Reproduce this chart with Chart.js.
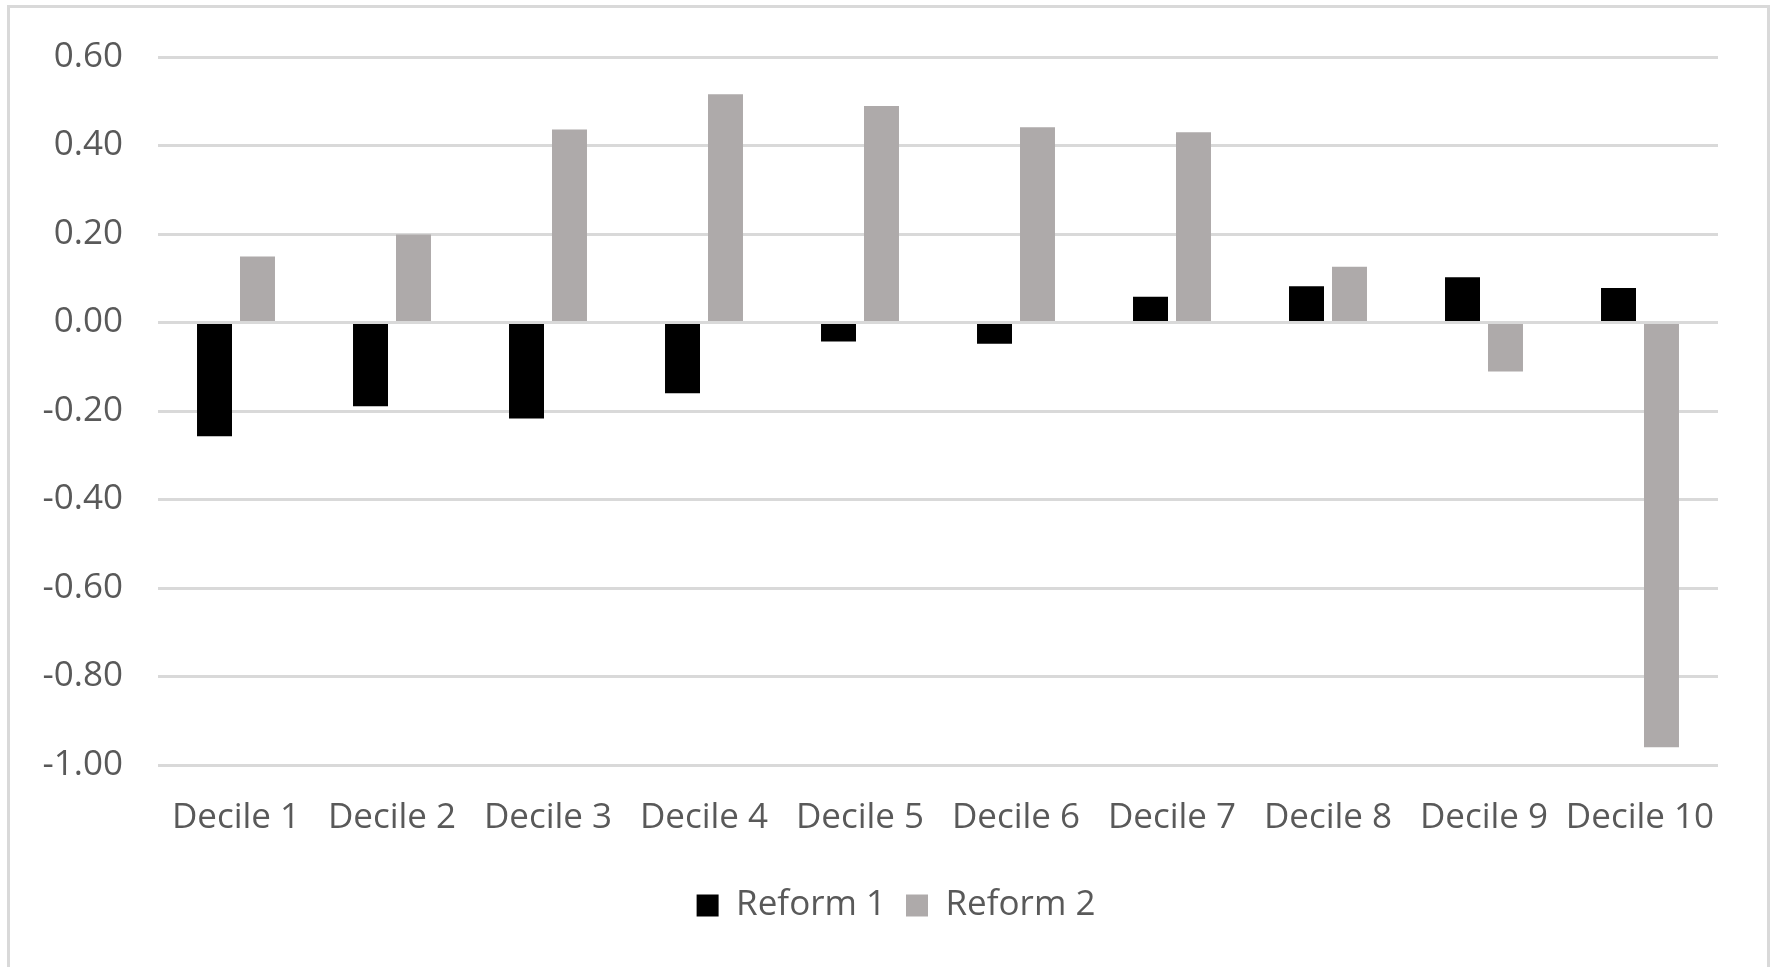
<!DOCTYPE html>
<html>
<head>
<meta charset="utf-8">
<script src="https://cdn.jsdelivr.net/npm/chart.js@4.4.1/dist/chart.umd.min.js"></script>
<style>
  html, body { margin: 0; padding: 0; background: #ffffff; }
  #frame { position: absolute; left: 7px; top: 5px; width: 1763px; height: 1000px;
           box-sizing: border-box; border: 3px solid #d9d9d9; border-bottom: none; }
  #wrap { position: absolute; left: 0; top: 0; width: 1772px; height: 967px; }
</style>
</head>
<body>
<div id="frame"></div>
<div id="wrap"><canvas id="c" width="1772" height="967"></canvas></div>
<script>
const categories = ['Decile 1', 'Decile 2', 'Decile 3', 'Decile 4', 'Decile 5',
                    'Decile 6', 'Decile 7', 'Decile 8', 'Decile 9', 'Decile 10'];
const reform1 = [-0.257, -0.189, -0.217, -0.160, -0.043, -0.048, 0.058, 0.082, 0.102, 0.078];
const reform2 = [0.149, 0.199, 0.436, 0.516, 0.489, 0.441, 0.430, 0.126, -0.111, -0.960];
const seriesNames = ['Reform 1', 'Reform 2'];
const yMin = -1.0;
const yMax = 0.6;
const yStep = 0.2;

const textColor = '#595959';
const fontFamily = "'Open Sans', 'DejaVu Sans', sans-serif";

new Chart(document.getElementById('c'), {
  type: 'bar',
  data: {
    labels: categories,
    datasets: [
      { label: seriesNames[0], data: reform1, backgroundColor: '#000000',
        categoryPercentage: 0.551, barPercentage: 0.814 },
      { label: seriesNames[1], data: reform2, backgroundColor: '#AEAAAA',
        categoryPercentage: 0.551, barPercentage: 0.814 }
    ]
  },
  options: {
    responsive: false,
    animation: false,
    devicePixelRatio: 1,
    layout: { padding: { top: 57, right: 0, bottom: 34, left: 20 } },
    plugins: {
      tooltip: { enabled: false },
      legend: {
        position: 'bottom',
        labels: {
          color: textColor,
          font: { family: fontFamily, size: 35 },
          boxWidth: 22,
          boxHeight: 22,
          padding: 20
        }
      }
    },
    scales: {
      x: {
        grid: { display: false, drawTicks: false },
        border: { display: false },
        ticks: { color: textColor, font: { family: fontFamily, size: 35 }, padding: 32,
                 maxRotation: 0, autoSkip: false },
        afterFit: (s) => { s.height = 103; }
      },
      y: {
        min: yMin,
        max: yMax,
        grid: { color: '#d9d9d9', lineWidth: 3, drawTicks: false },
        border: { display: false },
        ticks: {
          stepSize: yStep,
          color: textColor,
          font: { family: fontFamily, size: 35 },
          padding: 35,
          callback: (v) => (Math.abs(v) < 1e-9 ? 0 : v).toFixed(2)
        },
        afterFit: (s) => { s.width = 138; }
      },
      yRight: {
        position: 'right',
        display: true,
        grid: { display: false, drawTicks: false },
        border: { display: false },
        ticks: { display: false },
        afterFit: (s) => { s.width = 54; }
      }
    }
  }
});
</script>
</body>
</html>
